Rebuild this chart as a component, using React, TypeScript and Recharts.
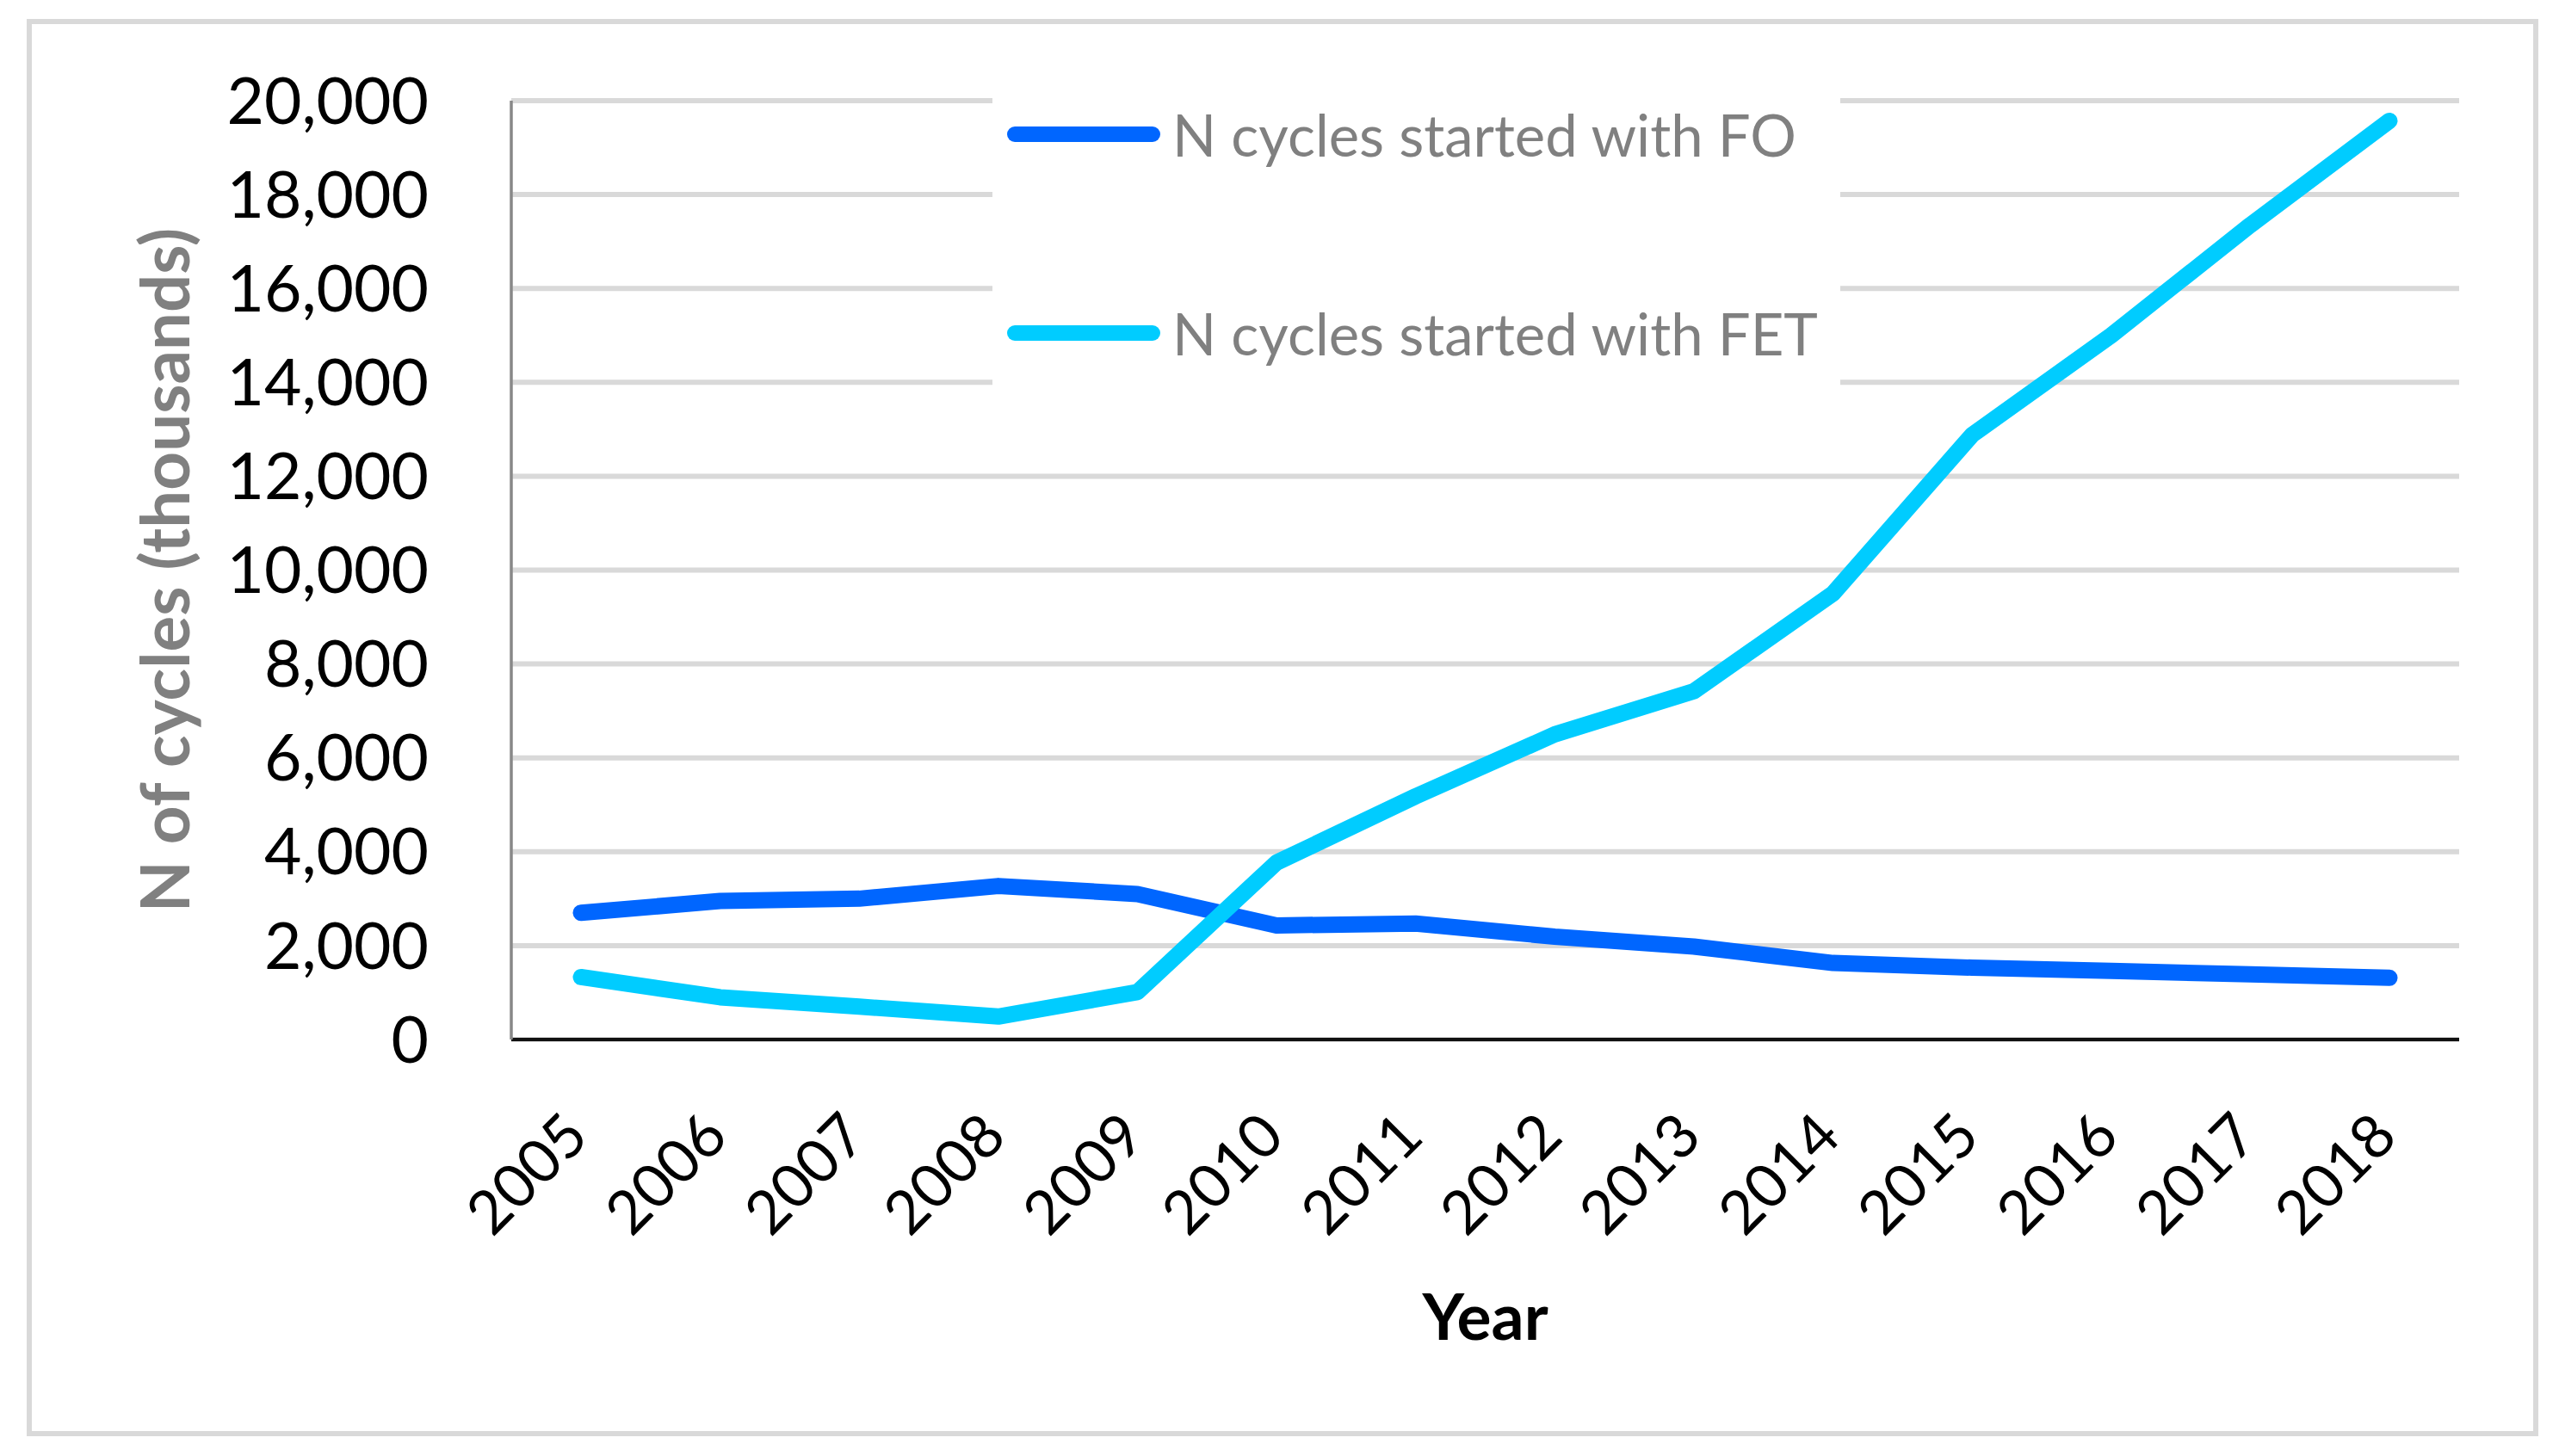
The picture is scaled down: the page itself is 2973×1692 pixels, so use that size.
import { LineChart, Line, XAxis, YAxis, CartesianGrid, Legend } from "recharts";

const FONT = "Lato, 'Open Sans', sans-serif";

const years = ["2005", "2006", "2007", "2008", "2009", "2010", "2011", "2012", "2013", "2014", "2015", "2016", "2017", "2018"];
const foCycles = [2700, 2950, 3000, 3270, 3100, 2430, 2470, 2190, 1980, 1630, 1530, 1460, 1390, 1315];
const fetCycles = [1330, 900, 700, 490, 1010, 3770, 5180, 6500, 7420, 9500, 12880, 15000, 17350, 19570];
const yTicks = [0, 2000, 4000, 6000, 8000, 10000, 12000, 14000, 16000, 18000, 20000];
const seriesNames = ["N cycles started with FO", "N cycles started with FET"];

const data = years.map((year, i) => ({ year, fo: foCycles[i], fet: fetCycles[i] }));

const COLORS = {
  fo: "#0066ff",
  fet: "#00ccff",
  grid: "#d9d9d9",
  legendText: "#808080",
  yLabel: "#808080",
};

function YearTick({ x, y, payload }: { x?: number; y?: number; payload?: { value: string } }) {
  return (
    <g transform={`translate(${(x ?? 0) - 6},${(y ?? 0) + 98})`}>
      <text transform="rotate(-45)" textAnchor="end" dy="0.36em" fontSize={70} fontFamily={FONT} fill="#000">
        {payload?.value}
      </text>
    </g>
  );
}

function LegendBox({ payload }: { payload?: Array<{ value: string; color: string }> }) {
  const rows = [61, 292];
  const items = [...(payload ?? [])].sort((a, b) => seriesNames.indexOf(a.value) - seriesNames.indexOf(b.value));
  return (
    <div style={{ position: "relative", width: 985, height: 405, background: "#fff" }}>
      {items.map((p, i) => (
        <div key={p.value} style={{ position: "absolute", left: 0, top: rows[i] - 50, height: 100, display: "flex", alignItems: "center" }}>
          <svg width={209} height={100} style={{ display: "block" }}>
            <line x1={26} y1={50} x2={186} y2={50} stroke={p.color} strokeWidth={18} strokeLinecap="round" />
          </svg>
          <span style={{ fontFamily: FONT, fontSize: 67, color: COLORS.legendText, whiteSpace: "nowrap", lineHeight: 1 }}>{p.value}</span>
        </div>
      ))}
    </div>
  );
}

export default function App() {
  return (
    <div style={{ position: "relative", width: 2973, height: 1692, background: "#fff" }}>
      <style>{`body{margin:0}`}</style>
      <div
        style={{
          position: "absolute",
          left: 31,
          top: 22,
          width: 2918,
          height: 1647,
          border: "6px solid #d9d9d9",
          boxSizing: "border-box",
        }}
      />
      <div style={{ position: "absolute", left: 0, top: 0 }}>
        <LineChart width={2973} height={1692} data={data} margin={{ top: 117, right: 116, bottom: 84, left: 194 }}>
          <CartesianGrid vertical={false} stroke={COLORS.grid} strokeWidth={6} />
          <XAxis
            dataKey="year"
            interval={0}
            height={400}
            padding={{ left: 81, right: 81 }}
            tickLine={false}
            tickSize={0}
            tickMargin={0}
            axisLine={{ stroke: "#111", strokeWidth: 4 }}
            tick={<YearTick />}
            label={{
              value: "Year",
              position: "insideTop",
              offset: 296,
              fontSize: 75,
              fontWeight: 700,
              fontFamily: FONT,
              fill: "#000",
            }}
          />
          <YAxis
            width={400}
            domain={[0, 20000]}
            ticks={yTicks}
            interval={0}
            tickLine={false}
            tickSize={0}
            tickMargin={96}
            axisLine={{ stroke: "#888", strokeWidth: 3.5 }}
            tickFormatter={(v: number) => v.toLocaleString("en-US")}
            tick={{ fontSize: 75, fontFamily: FONT, fill: "#000" }}
            label={{
              value: "N of cycles (thousands)",
              angle: -90,
              position: "center",
              dx: -202,
              fontSize: 78,
              fontWeight: 700,
              fontFamily: FONT,
              fill: COLORS.yLabel,
            }}
          />
          <Legend
            layout="vertical"
            align="center"
            verticalAlign="middle"
            content={<LegendBox />}
            wrapperStyle={{ left: 1153, top: 95, width: 985, height: 405 }}
          />
          <Line
            type="linear"
            dataKey="fo"
            name={seriesNames[0]}
            stroke={COLORS.fo}
            strokeWidth={19}
            strokeLinecap="round"
            strokeLinejoin="round"
            dot={false}
            activeDot={false}
            isAnimationActive={false}
          />
          <Line
            type="linear"
            dataKey="fet"
            name={seriesNames[1]}
            stroke={COLORS.fet}
            strokeWidth={19}
            strokeLinecap="round"
            strokeLinejoin="round"
            dot={false}
            activeDot={false}
            isAnimationActive={false}
          />
        </LineChart>
      </div>
    </div>
  );
}
